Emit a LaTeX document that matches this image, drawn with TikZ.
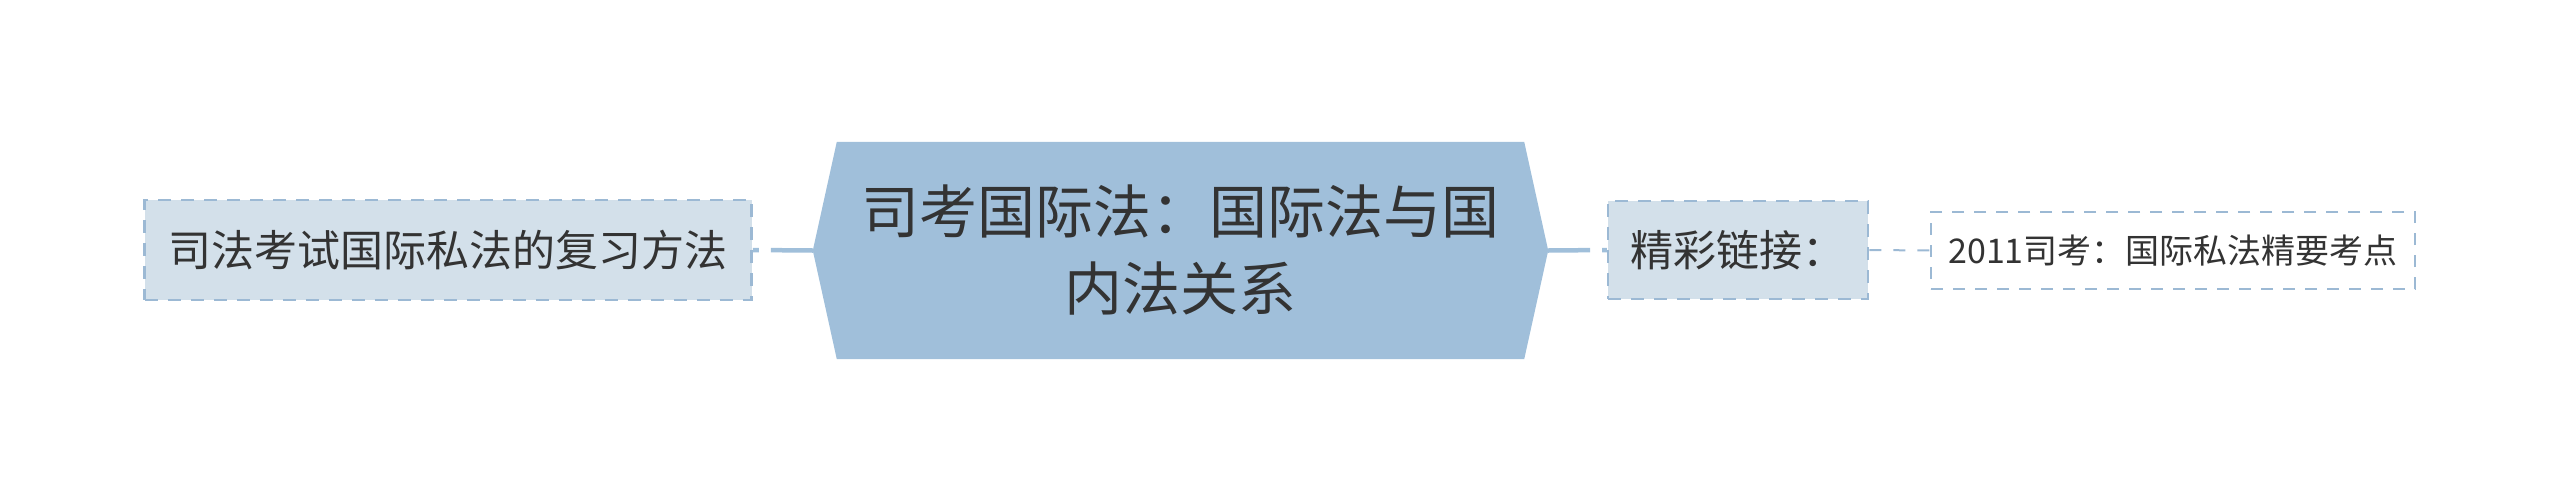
\documentclass[tikz,border=0pt]{standalone}
\usepackage{fontspec}
\setmainfont{Noto Sans CJK SC}
\usetikzlibrary{calc}
\definecolor{hexfill}{HTML}{A0BFDA}
\definecolor{boxfill}{HTML}{D3E0EA}
\definecolor{boxline}{HTML}{9CB9D4}
\definecolor{txt}{HTML}{333333}
\tikzset{
  rootnode/.style={minimum width=735pt, minimum height=217pt, inner sep=0pt, align=center, text=txt,
    font=\fontsize{58pt}{77pt}\selectfont},
  subbox/.style={draw=boxline, fill=boxfill, line width=2.5pt, dash pattern=on 13pt off 10pt,
    inner sep=0pt, text=txt, font=\fontsize{43pt}{50pt}\selectfont},
  leafbox/.style={draw=boxline, fill=white, line width=2pt, dash pattern=on 12pt off 10pt,
    inner sep=0pt, text=txt, font=\fontsize{34pt}{40pt}\selectfont},
  mainlink/.style={draw=hexfill, line width=4.5pt, dash pattern=on 42pt off 12pt on 60pt off 0pt},
  leaflink/.style={draw=boxline, line width=2pt, dash pattern=on 12pt off 12pt},
}
\begin{document}
\begin{tikzpicture}[x=1pt,y=-1pt]
\useasboundingbox (0,0) rectangle (2560,501);
\node[rootnode] (root) at (1180.5,250.5) {};
\fill[hexfill] ($(root.north west)+(24,0)$) -- ($(root.north east)+(-24,0)$) -- (root.east)
  -- ($(root.south east)+(-24,0)$) -- ($(root.south west)+(24,0)$) -- (root.west) -- cycle;
\node[rootnode] at (root.center) {司考国际法：国际法与国\\内法关系};
\node[subbox, minimum width=607pt, minimum height=100pt] (left) at (448,250) {司法考试国际私法的复习方法};
\node[subbox, minimum width=260pt, minimum height=98pt] (link) at (1738,250) {精彩链接：};
\node[leafbox, minimum width=484pt, minimum height=77pt] (leaf) at (2173,250.5) {2011司考：国际私法精要考点};
\draw[mainlink] (root.west) -- (left.east);
\draw[mainlink] (root.east) -- (link.west);
\draw[leaflink] (link.east) -- (leaf.west);
\end{tikzpicture}
\end{document}
